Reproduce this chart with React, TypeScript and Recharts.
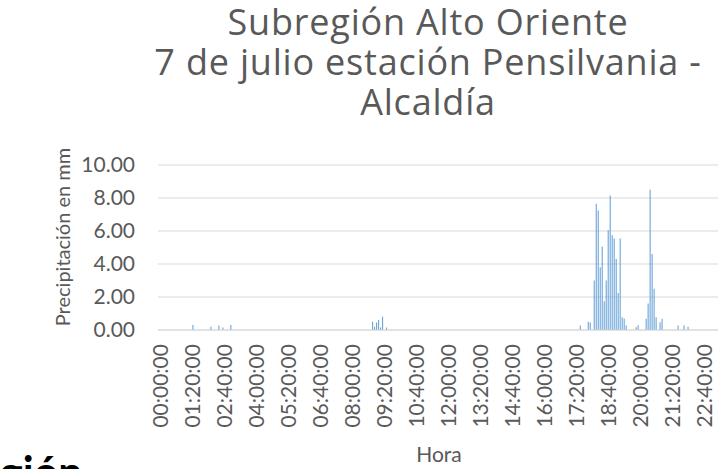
import { BarChart, Bar, XAxis, YAxis, CartesianGrid } from 'recharts';

const FONT = "Lato, 'Open Sans', sans-serif";
const TITLE_FONT = "'Open Sans', Lato, sans-serif";
const GREY = '#595959';

const titleLines = ['Subregión Alto Oriente', '7 de julio estación Pensilvania -', 'Alcaldía'];

// lluvia registrada (mm) por intervalo de 5 minutos; el resto del día es 0
const rainTimes = [
  '01:25:00', '02:10:00', '02:30:00', '02:40:00', '03:00:00',
  '08:55:00', '09:00:00', '09:05:00', '09:10:00', '09:15:00', '09:20:00', '09:30:00',
  '17:35:00', '17:55:00', '18:00:00', '18:10:00', '18:15:00', '18:20:00', '18:25:00',
  '18:30:00', '18:35:00', '18:40:00', '18:45:00', '18:50:00', '18:55:00', '19:00:00',
  '19:05:00', '19:10:00', '19:15:00', '19:20:00', '19:25:00', '19:30:00', '19:55:00',
  '20:00:00', '20:20:00', '20:25:00', '20:30:00', '20:35:00', '20:40:00', '20:45:00',
  '20:55:00', '21:00:00', '21:40:00', '21:55:00', '22:05:00',
];
const rainMm = [
  0.3, 0.2, 0.28, 0.15, 0.31,
  0.5, 0.2, 0.45, 0.6, 0.15, 0.8, 0.15,
  0.27, 0.5, 0.46, 3.0, 7.65, 7.25, 3.8,
  5.05, 1.75, 3.0, 6.05, 8.15, 5.75, 5.55,
  4.3, 2.25, 5.55, 0.78, 0.7, 0.27, 0.17,
  0.29, 0.68, 1.6, 8.5, 4.6, 2.5, 0.78,
  0.47, 0.68, 0.27, 0.27, 0.2,
];
const yTicks = [0, 2, 4, 6, 8, 10];

// categorías: cada 5 minutos de 00:00 a 23:20
const slots: string[] = [];
for (let m = 0; m <= 23 * 60 + 20; m += 5) {
  const h = String(Math.floor(m / 60)).padStart(2, '0');
  const mm = String(m % 60).padStart(2, '0');
  slots.push(`${h}:${mm}:00`);
}

const data = slots.map((hora) => {
  const i = rainTimes.indexOf(hora);
  return { hora, mm: i >= 0 ? rainMm[i] : 0 };
});

function TimeTick({ x, y, payload }: any) {
  return (
    <text
      x={x}
      y={y}
      dy={9.5}
      transform={`rotate(-90 ${x} ${y})`}
      textAnchor="end"
      fill={GREY}
      fontSize={21}
      fontFamily={FONT}
    >
      {payload.value}
    </text>
  );
}

function YTitle() {
  return (
    <text x={70} y={237} transform="rotate(-90 70 237)" textAnchor="middle" fill={GREY} fontSize={20} fontFamily={FONT}>
      Precipitación en mm
    </text>
  );
}

function XTitle() {
  return (
    <text x={439} y={462} textAnchor="middle" fill={GREY} fontSize={21} fontFamily={FONT}>
      Hora
    </text>
  );
}

export default function App() {
  return (
    <div style={{ position: 'absolute', left: 0, top: 0, width: 718, height: 469, overflow: 'hidden', background: '#fff' }}>
      {titleLines.map((line, i) => (
        <div
          key={line}
          style={{
            position: 'absolute',
            left: 78,
            top: 2 + i * 40,
            width: 700,
            height: 40,
            textAlign: 'center',
            fontFamily: TITLE_FONT,
            fontSize: 36,
            letterSpacing: 0.8,
            lineHeight: '40px',
            color: GREY,
            whiteSpace: 'nowrap',
          }}
        >
          {line}
        </div>
      ))}

      <div
        style={{
          position: 'absolute',
          left: 0,
          top: 450,
          fontFamily: FONT,
          fontWeight: 700,
          fontSize: 43,
          lineHeight: '43px',
          color: '#000',
          whiteSpace: 'nowrap',
        }}
      >
        gión
      </div>

      <div style={{ position: 'absolute', left: 0, top: 0 }}>
        <BarChart width={719} height={469} data={data} margin={{ top: 165, right: 0, bottom: 0, left: 0 }} barCategoryGap="25%">
          <CartesianGrid vertical={false} stroke="#D9D9D9" strokeWidth={1} />
          <XAxis
            dataKey="hora"
            interval={15}
            height={139}
            tickLine={false}
            tickSize={0}
            tickMargin={14}
            axisLine={{ stroke: '#D9D9D9' }}
            tick={<TimeTick />}
            label={<XTitle />}
          />
          <YAxis
            width={158}
            domain={[0, 10]}
            ticks={yTicks}
            tickFormatter={(v: number) => v.toFixed(2)}
            axisLine={false}
            tickLine={false}
            tick={{ fill: GREY, fontSize: 21, fontFamily: FONT, dx: -15 }}
            label={<YTitle />}
          />
          <Bar dataKey="mm" fill="#5B9BD5" isAnimationActive={false} />
        </BarChart>
      </div>
    </div>
  );
}
